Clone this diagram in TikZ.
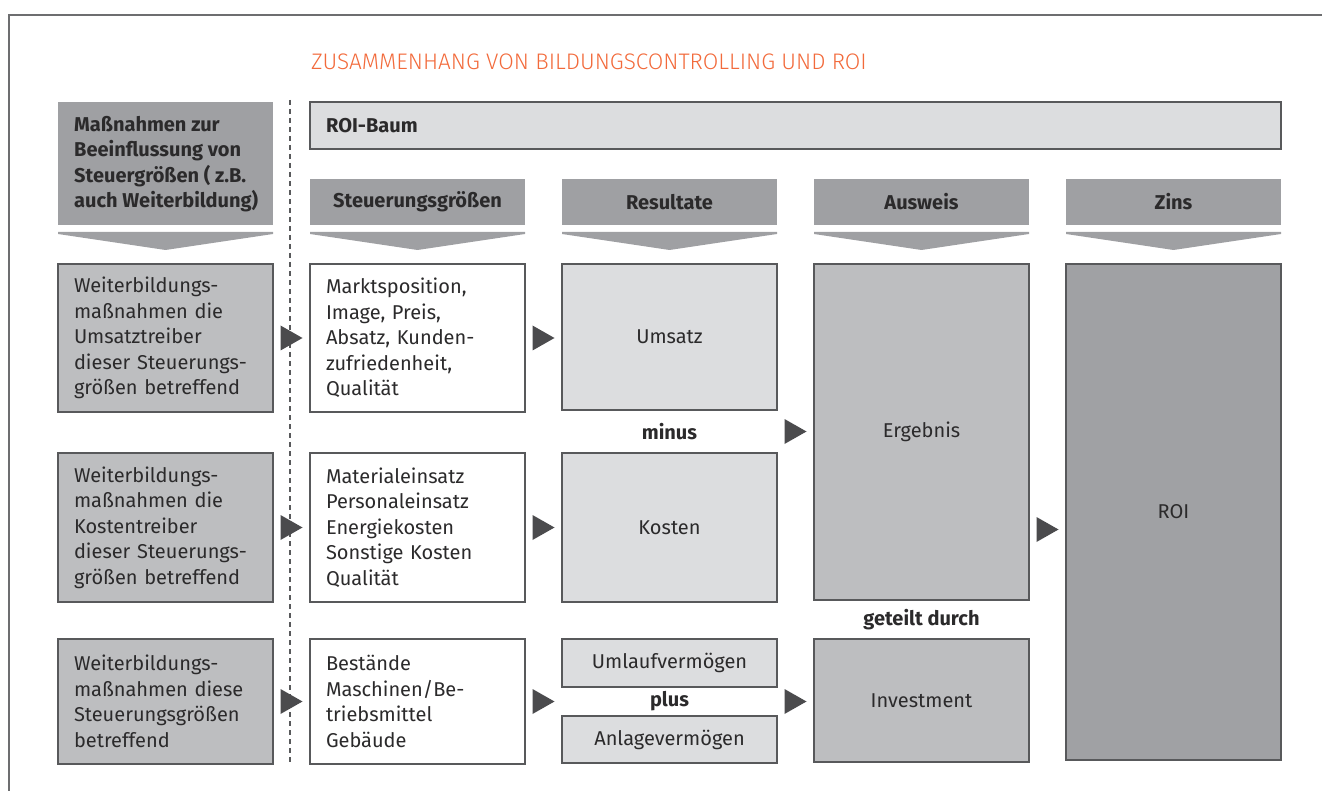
\documentclass[tikz,border=0pt]{standalone}
\usepackage{fontspec}
\setmainfont{Fira Sans}
\newfontfamily\titlefont{Fira Sans Light}
\usetikzlibrary{calc}

\definecolor{framec}{HTML}{6D6E70}
\definecolor{bordc}{HTML}{58595B}
\definecolor{headc}{HTML}{9FA0A3}
\definecolor{midc}{HTML}{BDBEC0}
\definecolor{lightc}{HTML}{DCDDDF}
\definecolor{roic}{HTML}{A0A1A4}
\definecolor{arrowc}{HTML}{4B4B4D}
\definecolor{titlec}{HTML}{F26A3B}
\definecolor{textc}{HTML}{2B2A2B}

\tikzset{
  txt/.style={font=\fontsize{20}{25.5}\selectfont, text=textc},
  bold/.style={font=\fontsize{20}{25.5}\selectfont\bfseries, text=textc},
  cell/.style={draw=bordc, line width=1.1pt, inner xsep=16pt, inner ysep=0pt,
    text width=183pt, minimum height=#1, txt},
  leftcell/.style={cell=#1, align=left},
  midcell/.style={cell=#1, align=center},
  header/.style={fill=headc, inner xsep=16pt, inner ysep=0pt, text width=183pt,
    minimum height=46pt, align=center, bold},
  chevron/.style={fill=headc},
  tri/.pic={\fill[arrowc] (-11,-12.5) -- (11,0) -- (-11,12.5) -- cycle;},
  opword/.style={bold, inner sep=0pt}
}

\begin{document}
\begin{tikzpicture}[x=1pt,y=-1pt]
\useasboundingbox (0,0) rectangle (1322,791);

% open frame
\draw[framec, line width=1.4pt] (9,800) -- (9,15) -- (1330,15);

% title
\node[anchor=west, inner sep=0pt, text=titlec, font=\titlefont\fontsize{22.5}{26}\selectfont]
  (title) at (311,62) {ZUSAMMENHANG VON BILDUNGSCONTROLLING UND ROI};

% separator between measures and ROI tree
\draw[bordc, line width=1.2pt, dash pattern=on 5pt off 4pt] (290,100) -- (290,765);

% header row
\node[fill=headc, minimum width=215pt, minimum height=123pt, inner sep=0pt]
  (hmass) at (165.5,163.5) {};
\node[bold, anchor=west, align=left, inner sep=0pt] (hmasstxt) at (74,164)
  {Maßnahmen zur\\Beeinflussung von\\Steuergrößen ( z.B.\\auch Weiterbildung)};
\node[draw=bordc, fill=lightc, line width=1.1pt, minimum width=971pt, minimum height=47pt,
  inner sep=0pt] (roibaum) at (795.5,125.5) {};
\node[bold, anchor=west, inner sep=0pt] (roibaumtxt) at (326,126) {ROI-Baum};

\node[header] (hsteuer) at (417.5,202) {Steuerungsgrößen};
\node[header] (hres)    at (669.5,202) {Resultate};
\node[header] (hausw)   at (921.5,202) {Ausweis};
\node[header] (hzins)   at (1173.5,202) {Zins};

% chevrons under the headers
\foreach \cx in {165.5,417.5,669.5,921.5,1173.5}{
  \fill[chevron] (\cx-107.5,232) -- (\cx+107.5,232) -- (\cx+107.5,234) -- (\cx,250)
    -- (\cx-107.5,234) -- cycle;
}

% left column: training measures
\node[leftcell=148pt, fill=midc] (m1) at (165.5,338)
  {Weiterbildungs-\\maßnahmen die\\Umsatztreiber\\dieser Steuerungs-\\größen betreffend};
\node[leftcell=149pt, fill=midc] (m2) at (165.5,527.5)
  {Weiterbildungs-\\maßnahmen die\\Kostentreiber\\dieser Steuerungs-\\größen betreffend};
\node[leftcell=125pt, fill=midc] (m3) at (165.5,701.5)
  {Weiterbildungs-\\maßnahmen diese\\Steuerungsgrößen\\betreffend};

% control variables
\node[leftcell=148pt, fill=white] (s1) at (417.5,338)
  {Marktsposition,\\Image, Preis,\\Absatz, Kunden-\\zufriedenheit,\\Qualität};
\node[leftcell=149pt, fill=white] (s2) at (417.5,527.5)
  {Materialeinsatz\\Personaleinsatz\\Energiekosten\\Sonstige Kosten\\Qualität};
\node[leftcell=125pt, fill=white] (s3) at (417.5,701.5)
  {Bestände\\Maschinen/Be-\\triebsmittel\\Gebäude};

% results
\node[midcell=146pt, fill=lightc] (umsatz) at (669.5,337) {Umsatz};
\node[midcell=149pt, fill=lightc] (kosten) at (669.5,527.5) {Kosten};
\node[midcell=48pt, fill=lightc] (umlauf) at (669.5,663) {Umlaufvermögen};
\node[midcell=47pt, fill=lightc] (anlage) at (669.5,739.5) {Anlagevermögen};
\node[opword] (minus) at ($(umsatz.south)!0.5!(kosten.north)$) {minus};
\node[opword] (plus) at ($(umlauf.south)!0.5!(anlage.north)$) {plus};

% statement
\node[midcell=336pt, fill=midc] (ergebnis) at (921.5,432) {Ergebnis};
\node[midcell=123pt, fill=midc] (invest) at (921.5,700.5) {Investment};
\node[opword] (geteilt) at ($(ergebnis.south)!0.5!(invest.north)$) {geteilt durch};

% interest
\node[midcell=496pt, fill=roic] (roi) at (1173.5,512) {ROI};

% flow arrows
\pic at ($(m1.east)!0.5!(s1.west)$) {tri};
\pic at ($(m2.east)!0.5!(s2.west)$) {tri};
\pic at ($(m3.east)!0.5!(s3.west)$) {tri};
\path let \p1=(s1.east), \p2=(umsatz.west) in pic at ({(\x1+\x2)/2},\y1) {tri};
\pic at ($(s2.east)!0.5!(kosten.west)$) {tri};
\path let \p1=(s3.east), \p2=(umlauf.west) in pic at ({(\x1+\x2)/2},\y1) {tri};
\path let \p1=(minus.center), \p2=(umsatz.east), \p3=(ergebnis.west) in
  pic at ({(\x2+\x3)/2},\y1) {tri};
\path let \p1=(plus.center), \p2=(umlauf.east), \p3=(invest.west) in
  pic at ({(\x2+\x3)/2},\y1) {tri};
\path let \p1=(kosten.center), \p2=(ergebnis.east), \p3=(roi.west) in
  pic at ({(\x2+\x3)/2},\y1-2) {tri};
\end{tikzpicture}
\end{document}
